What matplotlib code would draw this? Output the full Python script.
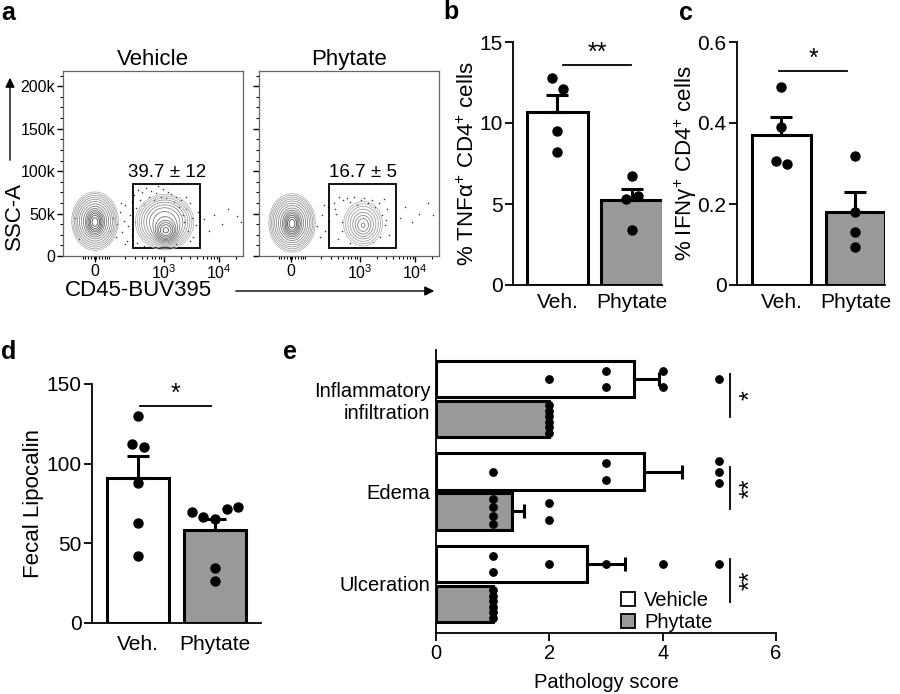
import numpy as np
import matplotlib
matplotlib.use('Agg')
import matplotlib.pyplot as plt
from matplotlib.lines import Line2D
from matplotlib.patches import Rectangle, FancyArrowPatch

plt.rcParams['font.family'] = ['Liberation Sans', 'DejaVu Sans']
plt.rcParams['mathtext.fontset'] = 'custom'
plt.rcParams['mathtext.rm'] = 'Liberation Sans'
plt.rcParams['mathtext.it'] = 'Liberation Sans:italic'
plt.rcParams['mathtext.bf'] = 'Liberation Sans:bold'

W, H = 900, 694
GREY = '#999999'

# ---------------- data ----------------
# panel a: flow plots, x in display channels (0-1024), y = SSC-A in thousands
flow_titles = ['Vehicle', 'Phytate']
flow_gate_pct = ['39.7 ± 12', '16.7 ± 5']
gate_ch = [400, 780]          # CD45 gate, channels
gate_ssc = [9.5, 85]          # SSC gate, k
# density components: centre ch, centre ssc, sd ch, sd ssc, weight
veh_blobs = [(182, 40, 20, 6, 1.0), (182, 41, 50, 13, 0.2),
             (585, 30, 27, 5.5, 0.6), (578, 40, 66, 13, 0.14)]
phy_blobs = [(188, 38, 20, 6, 1.0), (188, 39, 50, 13, 0.2),
             (592, 36, 24, 6, 0.05), (592, 38, 55, 13, 0.045)]
veh_ev_ch = [270, 285, 300, 310, 325, 335, 345, 355, 362, 370, 380, 390, 395, 405, 418, 425,
             438, 450, 462, 475, 488, 500, 515, 528, 540, 555, 570, 585, 600, 615, 630, 645,
             660, 672, 680, 690, 700, 712, 720, 735, 742, 755, 770, 800, 830, 860, 905, 940,
             990, 1010, 90, 70, 420, 460, 410, 700, 725, 640, 350, 330]
veh_ev_ssc = [30, 45, 22, 38, 52, 28, 41, 60, 18, 35, 48, 25, 64, 72, 56, 78,
              66, 75, 61, 80, 70, 77, 66, 74, 82, 70, 79, 68, 76, 73, 64, 70,
              58, 66, 48, 40, 55, 30, 62, 45, 22, 36, 52, 44, 30, 48, 38, 55,
              47, 40, 20, 45, 15, 12, 40, 70, 18, 14, 14, 62]
phy_ev_ch = [330, 345, 360, 375, 390, 398, 425, 440, 455, 470, 480, 500, 520, 540, 560, 580,
             600, 620, 640, 660, 680, 700, 715, 730, 738, 450, 470, 690, 710, 800, 830, 870,
             910, 960, 990, 520, 650, 430, 720, 370]
phy_ev_ssc = [35, 22, 48, 30, 58, 41, 62, 50, 69, 30, 66, 68, 64, 70, 60, 66,
              68, 63, 66, 58, 62, 48, 36, 55, 25, 20, 40, 22, 67, 45, 58, 40,
              50, 62, 48, 15, 16, 55, 42, 60]
x_major_vals = [0, 1e3, 1e4]
x_major_lbl = ['0', '$10^3$', '$10^4$']
x_minor_vals = [-90, -70, -50, -30, -10, 10, 30, 50, 70, 90, 100] + \
               [k * 100 for k in range(2, 10)] + [k * 1000 for k in range(2, 10)] + [20000]
y_major = [0, 50, 100, 150, 200]
y_major_lbl = ['0', '50k', '100k', '150k', '200k']

# panel b-d
groups2 = ['Veh.', 'Phytate']
tnf_veh = [12.8, 12.1, 9.5, 8.2]
tnf_phy = [6.7, 5.3, 5.5, 3.4]
ifng_veh = [0.489, 0.39, 0.306, 0.299]
ifng_phy = [0.319, 0.18, 0.13, 0.094]
lcn_veh = [130, 112.4, 110.5, 88, 62.8, 42]
lcn_phy = [69.7, 66.5, 65.3, 71.6, 72.8, 34.5, 26.4]

# panel e
path_cats = ['Inflammatory\ninfiltration', 'Edema', 'Ulceration']
path_veh = [[2, 3, 3, 4, 4, 5], [1, 3, 3, 5, 5, 5], [1, 1, 2, 3, 4, 5]]
path_phy = [[2, 2, 2, 2, 2, 2], [1, 1, 1, 1, 2, 2], [1, 1, 1, 1, 1, 1]]
path_sig = ['*', '**', '**']


# ---------------- helpers ----------------
def rect(l, t, r, b):
    return [l / W, 1 - b / H, (r - l) / W, (b - t) / H]


def fx(x):
    return x / W


def fy(y):
    return 1 - y / H


def chan(v):
    # symlog-like display transform used by the cytometer software
    v = np.asarray(v, float)
    a = np.abs(v)
    s = np.where(a <= 100, a / 100 * 0.25, 0.25 + np.log10(np.maximum(a, 100) / 100))
    return 182 + 314 * np.sign(v) * s


def spread(vals, thr, step):
    vals = np.asarray(vals, float)
    order = np.argsort(vals, kind='stable')
    off = np.zeros(len(vals))
    clusters = [[order[0]]]
    for i in order[1:]:
        if vals[i] - vals[clusters[-1][-1]] < thr:
            clusters[-1].append(i)
        else:
            clusters.append([i])
    for c in clusters:
        c = sorted(c)
        n = len(c)
        s = step(n) if callable(step) else step
        for k, i in enumerate(c):
            off[i] = (k - (n - 1) / 2) * s
    return off


def flow_panel(ax, blobs, ev_ch, ev_ssc, title, pct, ylabels):
    u = np.linspace(0, 1024, 500)
    y = np.linspace(0, 218, 400)
    U, Y = np.meshgrid(u, y)
    Z = np.zeros_like(U)
    for cx, cy, sx, sy, w in blobs:
        Z += w * np.exp(-0.5 * (((U - cx) / sx) ** 2 + ((Y - cy) / sy) ** 2))
    nlev = 14
    levels = np.geomspace(0.006, 0.9, nlev)
    cols = [plt.cm.Greys(0.42 + 0.4 * k / (nlev - 1)) for k in range(nlev)]
    ax.contour(U, Y, Z, levels=levels, colors=cols, linewidths=0.55)
    ax.scatter(ev_ch, ev_ssc, s=1.2, c='#333333', linewidths=0)
    ax.add_patch(Rectangle((gate_ch[0], gate_ssc[0]), gate_ch[1] - gate_ch[0],
                           gate_ssc[1] - gate_ssc[0], fill=False, ec='black', lw=1.3))
    ax.text(np.mean(gate_ch), gate_ssc[1] + 3, pct, ha='center', va='bottom', fontsize=13.5)
    ax.set_xlim(0, 1024)
    ax.set_ylim(0, 218)
    ax.set_xticks(chan(x_major_vals))
    ax.set_xticklabels(x_major_lbl)
    ax.set_xticks(chan(x_minor_vals), minor=True)
    ax.set_yticks(y_major)
    ax.set_yticks(np.arange(0, 218, 12.5), minor=True)
    if ylabels:
        ax.set_yticklabels(y_major_lbl)
    else:
        ax.set_yticklabels([])
    ax.tick_params(labelsize=11.5, length=4, width=1, pad=1.5)
    ax.tick_params(which='minor', length=2.5, width=0.8)
    for sp in ax.spines.values():
        sp.set_color('#666666')
        sp.set_linewidth(0.9)
    ax.set_title(title, fontsize=16, pad=4)


def bar_panel(ax, data, width, ylim, yticks, ytlbl, ylabel, lpad, thr, sig, sig_x, sig_y, xlim):
    for i, (vals, fc) in enumerate(zip(data, ['white', GREY])):
        v = np.asarray(vals, float)
        m = v.mean()
        se = v.std(ddof=1) / np.sqrt(len(v))
        ax.bar(i, m, width, color=fc, edgecolor='black', linewidth=2.2, zorder=1)
        ax.errorbar(i, m, yerr=[[0], [se]], fmt='none', ecolor='black', elinewidth=2.2,
                    capsize=8, capthick=2.2, zorder=2)
        ax.plot(i + spread(v, thr, 0.15), v, 'o', color='black', ms=6.5, zorder=3, clip_on=False)
    ax.plot(sig_x, [sig_y, sig_y], color='black', lw=1.3)
    ax.text(np.mean(sig_x), sig_y, sig, ha='center', va='bottom', fontsize=18)
    ax.set_xlim(*xlim)
    ax.set_ylim(*ylim)
    ax.set_yticks(yticks)
    ax.set_yticklabels(ytlbl)
    ax.set_xticks([0, 1])
    ax.set_xticklabels(groups2)
    ax.spines[['top', 'right']].set_visible(False)
    ax.spines[['left', 'bottom']].set_linewidth(1.3)
    ax.tick_params(axis='y', labelsize=15, length=6, width=1.3, pad=1.5)
    ax.tick_params(axis='x', labelsize=15, length=0, pad=6)
    ax.set_ylabel(ylabel, fontsize=16, labelpad=lpad)


# ---------------- figure ----------------
fig = plt.figure(figsize=(9, 6.94), dpi=100)

# a
ax_a1 = fig.add_axes(rect(63, 71, 243, 256))
ax_a2 = fig.add_axes(rect(259, 71, 439, 256))
flow_panel(ax_a1, veh_blobs, veh_ev_ch, veh_ev_ssc, flow_titles[0], flow_gate_pct[0], True)
flow_panel(ax_a2, phy_blobs, phy_ev_ch, phy_ev_ssc, flow_titles[1], flow_gate_pct[1], False)
fig.text(fx(14), fy(216), 'SSC-A', rotation=90, ha='center', va='center', fontsize=16)
fig.text(fx(138), fy(291), 'CD45-BUV395', ha='center', va='center', fontsize=16)
fig.add_artist(FancyArrowPatch((fx(10), fy(163)), (fx(10), fy(75)), transform=fig.transFigure,
                               arrowstyle='-|>', mutation_scale=14, lw=1, color='black'))
fig.add_artist(FancyArrowPatch((fx(233), fy(291)), (fx(437), fy(291)), transform=fig.transFigure,
                               arrowstyle='-|>', mutation_scale=14, lw=1, color='black'))

# b
ax_b = fig.add_axes(rect(513, 42, 662, 285))
bar_panel(ax_b, [tnf_veh, tnf_phy], 0.82, (0, 15), [0, 5, 10, 15], ['0', '5', '10', '15'],
          '% TNFα$^{+}$ CD4$^{+}$ cells', 0, 0.8, '**', [0.07, 0.99], 13.6, (-0.597, 1.403))

# c
ax_c = fig.add_axes(rect(737, 42, 885, 285))
bar_panel(ax_c, [ifng_veh, ifng_phy], 0.8, (0, 0.6), [0, 0.2, 0.4, 0.6], ['0', '0.2', '0.4', '0.6'],
          '% IFNγ$^{+}$ CD4$^{+}$ cells', -1, 0.03, '*', [-0.03, 0.885], 0.528, (-0.6, 1.4))

# d
ax_d = fig.add_axes(rect(92, 384, 261, 623))
bar_panel(ax_d, [lcn_veh, lcn_phy], 0.805, (0, 150), [0, 50, 100, 150], ['0', '50', '100', '150'],
          'Fecal Lipocalin', 2, 8, '*', [0.03, 0.95], 136, (-0.597, 1.597))
ax_d.tick_params(axis='x', pad=9)

# e
ax_e = fig.add_axes(rect(436, 350, 776, 633))
bh = 0.395
for i, (vv, vp) in enumerate(zip(path_veh, path_phy)):
    for vals, fc, yc in [(vv, 'white', i - 0.215), (vp, GREY, i + 0.215)]:
        v = np.asarray(vals, float)
        m = v.mean()
        se = v.std(ddof=1) / np.sqrt(len(v))
        ax_e.barh(yc, m, bh, color=fc, edgecolor='black', linewidth=2.2, zorder=1)
        ax_e.errorbar(m, yc, xerr=[[0], [se]], fmt='none', ecolor='black', elinewidth=2.2,
                      capsize=5, capthick=2.2, zorder=2)
        off = spread(v, 0.01, lambda n: min(0.19, 0.36 / n))
        ax_e.plot(v, yc + off, 'o', color='black', ms=5.3, zorder=3)
    ax_e.plot([5.19, 5.19], [i - 0.27, i + 0.19], color='black', lw=1.3)
    ax_e.text(5.55, i - 0.04, path_sig[i], rotation=90, ha='center', va='center', fontsize=18)
ax_e.set_xlim(0, 6)
ax_e.set_ylim(2.53, -0.53)
ax_e.set_xticks([0, 2, 4, 6])
ax_e.set_yticks(range(len(path_cats)))
ax_e.set_yticklabels(path_cats)
ax_e.spines[['top', 'right']].set_visible(False)
ax_e.spines[['left', 'bottom']].set_linewidth(1.3)
ax_e.tick_params(axis='x', labelsize=14.5, length=6, width=1.3, pad=2)
ax_e.tick_params(axis='y', labelsize=14.5, length=0, pad=4)
ax_e.set_xlabel('Pathology score', fontsize=14.5, labelpad=7)
handles = [Line2D([], [], marker='s', ls='none', mfc='white', mec='black', ms=10, mew=1.3),
           Line2D([], [], marker='s', ls='none', mfc=GREY, mec='black', ms=10, mew=1.3)]
ax_e.legend(handles, ['Vehicle', 'Phytate'], loc='lower left', bbox_to_anchor=(fx(618), fy(632)),
            bbox_transform=fig.transFigure, frameon=False, handletextpad=0.3, labelspacing=0.15,
            borderpad=0, borderaxespad=0, fontsize=14.5, handlelength=1.0)

# panel letters
for lbl, x, y in [('a', 1, 13), ('b', 443, 12), ('c', 679, 13), ('d', 1, 352), ('e', 283, 352)]:
    fig.text(fx(x), fy(y), lbl, fontsize=18, fontweight='bold', ha='left', va='center')

fig.savefig('out.png', dpi=100)
